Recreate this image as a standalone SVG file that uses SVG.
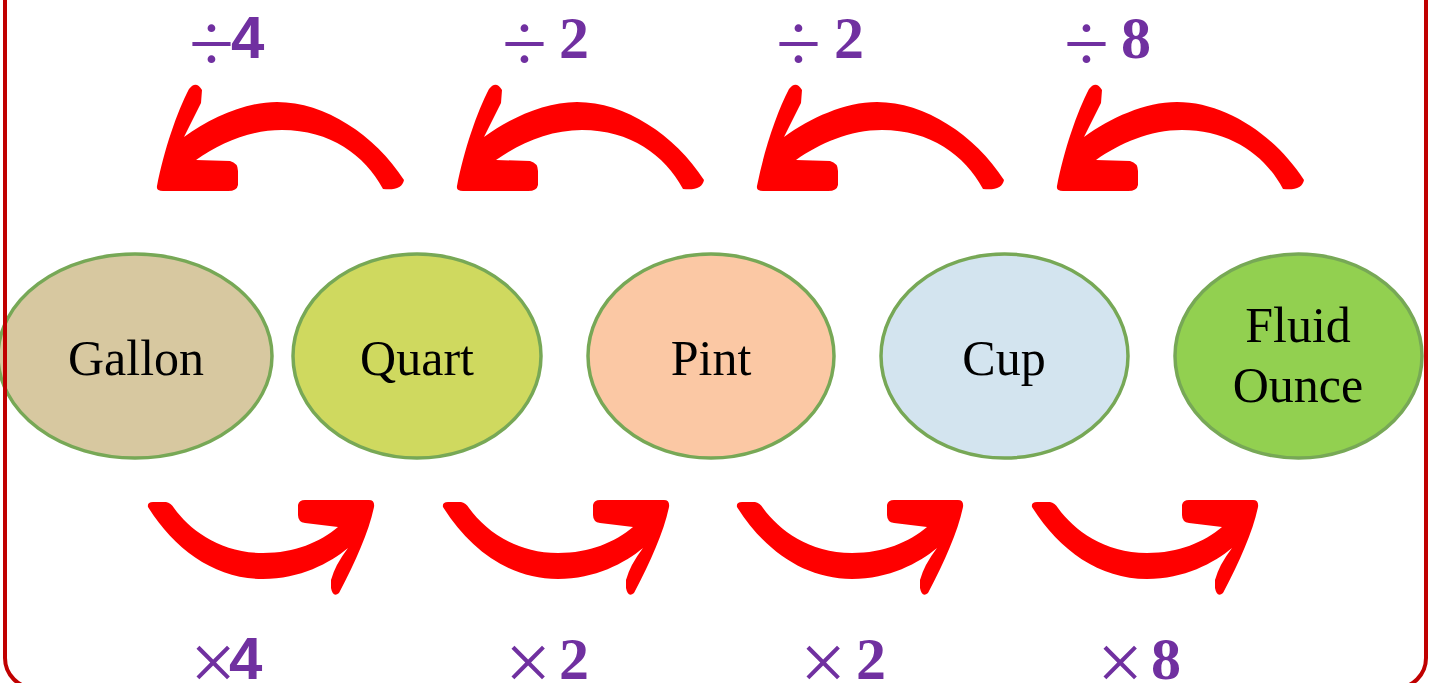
<svg xmlns="http://www.w3.org/2000/svg" width="1430" height="683" viewBox="0 0 1430 683">
<defs>
<style>
.node ellipse{stroke:#77a856;stroke-width:3.5}
.node text{font-family:"Liberation Serif","Times New Roman",serif;font-size:50px;fill:#000;text-anchor:middle}
.arr{fill:#ff0000}
.lbl{font-family:"Liberation Serif","Times New Roman",serif;font-size:60px;fill:#7030a0}
.op{font-weight:normal;font-size:82px}
.num{font-weight:bold}
.sans{font-family:"Liberation Sans",Arial,sans-serif}
</style>
<path id="up" d="M157 186 C164 150 177 112 189 89 Q196 80 202 90 L201 103 L184 137 C210 118 245 102 277 102 C325 102 375 135 404 180 Q402 191 383 189 C365 155 330 130 282 130 C250 130 220 143 196 160 L230 161 Q238 163 238 171 L238 185 Q237 191 228 191 L163 191 Q156 191 157 186 Z"/>
<path id="down" d="M148 507 Q147 502 153 502 L166 502 Q171 503 174 508 C190 530 220 553 263 553 C295 553 320 542 338 527 L305 523 Q298 522 298 515 L298 505 Q299 500 305 500 L369 500 Q375 500 374 507 C369 531 356 561 339 593 Q333 598 331 588 L331 580 Q335 565 348 548 C330 563 300 579 263 579 C215 579 175 550 148 507 Z"/>
</defs>
<rect width="1430" height="683" fill="#ffffff"/>
<g id="connectors">
<use href="#up" class="arr"/>
<use href="#up" class="arr" transform="translate(300 0)"/>
<use href="#up" class="arr" transform="translate(600 0)"/>
<use href="#up" class="arr" transform="translate(900 0)"/>
<use href="#down" class="arr"/>
<use href="#down" class="arr" transform="translate(295 0)"/>
<use href="#down" class="arr" transform="translate(589 0)"/>
<use href="#down" class="arr" transform="translate(884 0)"/>
</g>
<g id="labels">
<text class="lbl" y="58"><tspan class="op" x="189" dy="13">÷</tspan><tspan class="num sans" x="231" dy="-13">4</tspan></text>
<text class="lbl" y="58"><tspan class="op" x="502" dy="13">÷</tspan><tspan class="num" x="559" dy="-13">2</tspan></text>
<text class="lbl" y="58"><tspan class="op" x="776" dy="13">÷</tspan><tspan class="num" x="834" dy="-13">2</tspan></text>
<text class="lbl" y="58"><tspan class="op" x="1064" dy="13">÷</tspan><tspan class="num" x="1121" dy="-13">8</tspan></text>
<text class="lbl" y="679"><tspan class="op" x="190" dy="11">×</tspan><tspan class="num sans" x="229" dy="-11">4</tspan></text>
<text class="lbl" y="679"><tspan class="op" x="505" dy="11">×</tspan><tspan class="num" x="559" dy="-11">2</tspan></text>
<text class="lbl" y="679"><tspan class="op" x="800" dy="11">×</tspan><tspan class="num" x="856" dy="-11">2</tspan></text>
<text class="lbl" y="679"><tspan class="op" x="1097" dy="11">×</tspan><tspan class="num" x="1151" dy="-11">8</tspan></text>
</g>
<g id="gallon" class="node"><ellipse cx="135" cy="356" rx="137" ry="102" fill="#d7c8a0"/><text x="136" y="375">Gallon</text></g>
<g id="quart" class="node"><ellipse cx="417" cy="356" rx="124" ry="102" fill="#cfd95f"/><text x="417" y="375">Quart</text></g>
<g id="pint" class="node"><ellipse cx="711" cy="356" rx="123" ry="102" fill="#fbc8a4"/><text x="711" y="375">Pint</text></g>
<g id="cup" class="node"><ellipse cx="1004.5" cy="356" rx="123.5" ry="102" fill="#d3e4ef"/><text x="1004" y="375">Cup</text></g>
<g id="fluid-ounce" class="node"><ellipse cx="1298.5" cy="356" rx="123.5" ry="102" fill="#92d050"/><text x="1298" y="342">Fluid</text><text x="1298" y="402">Ounce</text></g>
<rect x="5" y="-40" width="1421" height="728" rx="30" fill="none" stroke="#c00000" stroke-width="4"/>
</svg>
